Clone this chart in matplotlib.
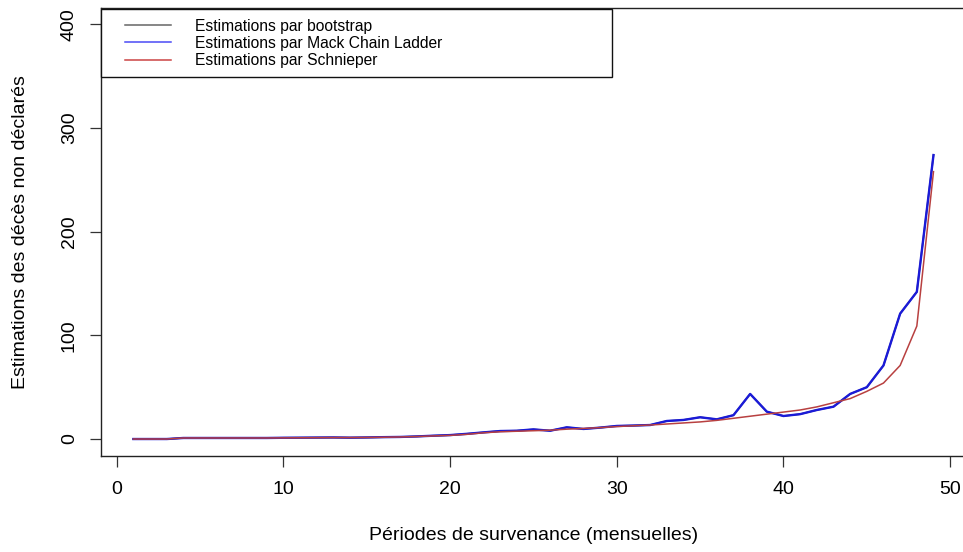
import matplotlib
matplotlib.use("Agg")
import matplotlib.pyplot as plt
from matplotlib.legend_handler import HandlerLine2D
from matplotlib.lines import Line2D

plt.rcParams['font.family'] = ['Liberation Sans', 'DejaVu Sans']

periods = list(range(1, 50))

mack = [0, 0, 0, 1, 1, 1, 1, 1, 1, 1.2,
        1.3, 1.4, 1.5, 1.3, 1.5, 1.8, 2, 2.5, 3.2, 3.8,
        5, 6.4, 7.7, 8, 9.3, 8, 11.3, 9.7, 11, 12.6,
        13, 13.5, 17.4, 18.4, 21, 19, 23, 43.5, 26.4, 22.2,
        24, 28, 31.2, 43.5, 50, 71, 121, 142, 274]

bootstrap = [0, 0, 0, 1, 1, 1, 1, 1, 1, 1.2,
             1.3, 1.4, 1.5, 1.3, 1.5, 1.8, 2, 2.5, 3.2, 3.8,
             5, 6.4, 7.7, 8, 9.3, 8, 11.3, 9.7, 11, 12.6,
             13, 13.5, 17.4, 18.4, 21, 19, 23, 43.5, 26.4, 22.2,
             24, 28, 31.2, 43.5, 50, 71, 121, 142, 274]

schnieper = [0, 0, 0, 1, 1, 1, 1, 1, 1, 1.1,
             1.2, 1.3, 1.4, 1.4, 1.5, 1.7, 2, 2.4, 3, 3.5,
             4.5, 6, 7, 7.5, 8, 8.5, 9.5, 10.2, 11, 12,
             12.8, 13.5, 14.5, 15.5, 16.5, 18, 20, 22, 24, 26,
             28, 31, 35, 39, 46, 54, 71, 109, 258]

labels = ["Estimations par bootstrap",
          "Estimations par Mack Chain Ladder",
          "Estimations par Schnieper"]

W, H = 963, 552
fig = plt.figure(figsize=(W / 100, H / 100), dpi=100)
x0, x1 = 101.4, 965.5
y0, y1 = 7.9, 455.6
ax = fig.add_axes([x0 / W, 1 - y1 / H, (x1 - x0) / W, (y1 - y0) / H])

ax.plot(periods, bootstrap, color="#555555", lw=1.2)
ax.plot(periods, mack, color="#1a1ad8", lw=1.7)
ax.plot(periods, schnieper, color="#b84040", lw=1.1)

ax.set_xlim(-0.92, 50.92)
ax.set_ylim(-16, 416)
ax.set_xticks([0, 10, 20, 30, 40, 50])
ax.set_yticks([0, 100, 200, 300, 400])
ax.tick_params(axis='both', direction='out', length=8, width=0.9,
               labelsize=14, color='#333333')
ax.tick_params(axis='x', pad=10)
ax.tick_params(axis='y', pad=9)
for lab in ax.get_yticklabels():
    lab.set_rotation(90)
    lab.set_va('center')
for sp in ax.spines.values():
    sp.set_linewidth(1.0)
    sp.set_color('#222222')

ax.set_xlabel("Périodes de survenance (mensuelles)", fontsize=14)
ax.set_ylabel("Estimations des décès non déclarés", fontsize=14)
axw = x1 - x0
axh = y1 - y0
ax.xaxis.set_label_coords(0.5, (y1 - 527.4) / axh)
ax.yaxis.set_label_coords((29 - x0) / axw, 0.5)

handles = [Line2D([], [], color="#666666", lw=1.1),
           Line2D([], [], color="#4a4af5", lw=1.1),
           Line2D([], [], color="#cc4444", lw=1.1)]
hmap = {h: HandlerLine2D(xpad=0.89) for h in handles}
leg = ax.legend(handles, labels, loc='upper left',
                bbox_to_anchor=(0, 0, (612.3 - x0) / axw, 1 - (9.3 - y0) / axh),
                mode='expand', borderaxespad=0, fontsize=11.25,
                handlelength=3.84, handletextpad=1.54, borderpad=0.6,
                labelspacing=0.14, fancybox=False, framealpha=1,
                edgecolor='#111111', handler_map=hmap)
leg.get_frame().set_linewidth(1.0)

fig.savefig("out.png", dpi=100)
